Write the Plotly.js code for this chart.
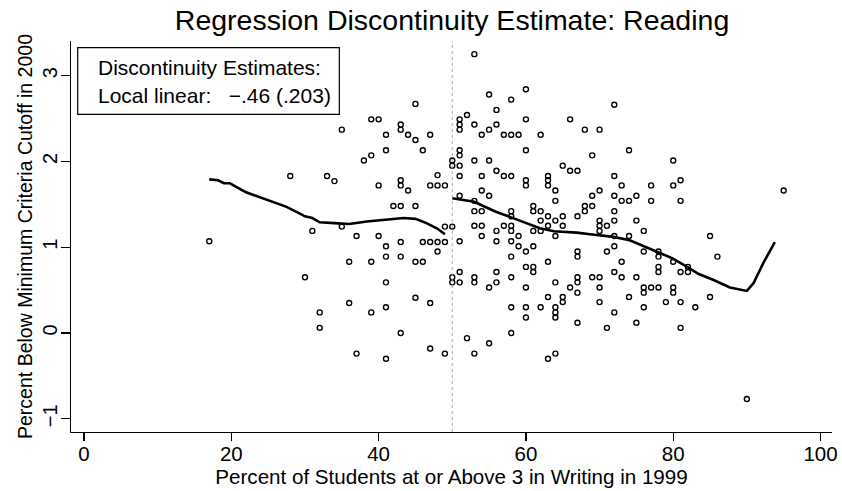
<!DOCTYPE html>
<html>
<head>
<meta charset="utf-8">
<script src="https://cdn.plot.ly/plotly-3.0.1.min.js"></script>
<style>html,body{margin:0;padding:0;background:#fff;}#chart{width:842px;height:491px;}</style>
</head>
<body>
<div id="chart"></div>
<script>
// ---- Data ----
const chartTitle = "Regression Discontinuity Estimate: Reading";
const xTitle = "Percent of Students at or Above 3 in Writing in 1999";
const yTitle = "Percent Below Minimum Criteria Cutoff in 2000";
const legendLine1 = "Discontinuity Estimates:";
const legendLine2 = "Local linear:\u00a0\u00a0\u00a0\u2212.46 (.203)";
const cutoff = 50;
const xTickVals = [0, 20, 40, 60, 80, 100];
const yTickVals = [-1, 0, 1, 2, 3];

// scatter points grouped by x value
const pointGroups = [
  [17, [1.07]],
  [28, [1.83]],
  [30, [0.65]],
  [31, [1.19]],
  [32, [0.24, 0.06]],
  [33, [1.83]],
  [34, [1.77]],
  [35, [2.37, 1.24]],
  [36, [0.83, 0.35]],
  [37, [1.13, -0.24]],
  [38, [2.01]],
  [39, [2.49, 2.07, 0.83, 0.24]],
  [40, [2.49, 1.72, 1.13]],
  [41, [2.31, 2.13, 1.01, 0.89, 0.59, 0.30, -0.30]],
  [42, [1.48]],
  [43, [2.43, 2.37, 1.78, 1.72, 1.48, 1.06, 0.89, 0.0]],
  [44, [2.31, 1.66]],
  [45, [2.67, 2.25, 1.48, 0.83, 0.41]],
  [46, [2.13, 1.06, 0.83]],
  [47, [2.31, 1.72, 1.06, 0.35, -0.18]],
  [48, [1.84, 1.72, 1.06, 0.95]],
  [49, [1.72, 1.24, 1.06, -0.24]],
  [50, [2.01, 1.95, 1.24, 0.65, 0.59]],
  [51, [2.49, 2.43, 2.37, 2.13, 2.07, 1.95, 1.83, 1.60, 1.07, 0.71, 0.59]],
  [52, [2.54, -0.06]],
  [53, [3.25, 2.43, 2.01, 1.54, 1.42, 1.25, 0.65, 0.59, -0.24]],
  [54, [2.31, 1.83, 1.66, 1.42, 1.25, 1.13]],
  [55, [2.78, 2.37, 2.01, 1.60, 0.53, -0.12]],
  [56, [2.60, 2.43, 1.89, 1.19, 1.07, 0.71, 0.59]],
  [57, [2.31, 1.83, 1.25]],
  [58, [2.72, 2.31, 1.83, 1.42, 1.36, 1.25, 1.19, 1.07, 0.89, 0.65, 0.30, 0.0]],
  [59, [2.31, 1.13, 1.01]],
  [60, [2.84, 2.49, 2.13, 1.78, 1.72, 0.95, 0.77, 0.53, 0.30, 0.18]],
  [61, [1.48, 1.42, 1.19, 1.01, 0.77, 0.71]],
  [62, [2.31, 1.42, 1.31, 1.19, 0.30]],
  [63, [1.83, 1.78, 1.72, 1.36, 1.25, 0.83, 0.42, -0.30]],
  [64, [1.66, 1.54, 1.31, 1.13, 0.59, 0.30, 0.24, 0.18, -0.24]],
  [65, [1.95, 1.36, 1.25, 0.42, 0.36]],
  [66, [2.49, 1.89, 0.53]],
  [67, [1.89, 1.36, 0.95, 0.89, 0.65, 0.59, 0.47, 0.12]],
  [68, [2.37, 1.48, 1.42]],
  [69, [2.07, 1.60, 1.48, 0.65]],
  [70, [2.37, 1.66, 1.31, 1.25, 1.19, 0.65, 0.53, 0.36]],
  [71, [1.25, 0.95, 0.06]],
  [72, [2.66, 1.83, 1.60, 1.42, 1.31, 1.13, 1.01, 0.71, 0.24]],
  [73, [1.72, 1.54, 0.83, 0.65]],
  [74, [2.13, 1.54, 1.13, 0.42]],
  [75, [1.60, 1.31, 0.65, 0.12]],
  [76, [1.19, 0.95, 0.53, 0.47, 0.30]],
  [77, [1.72, 1.54, 0.53]],
  [78, [0.95, 0.89, 0.77, 0.71, 0.53]],
  [79, [0.36]],
  [80, [2.01, 1.72, 0.83, 0.53, 0.47]],
  [81, [1.78, 1.54, 0.71, 0.36, 0.06]],
  [82, [0.77, 0.71]],
  [83, [0.30]],
  [85, [1.13, 0.42]],
  [86, [0.89]],
  [90, [-0.77]],
  [95, [1.66]]
];

// local fit, left of cutoff
const fitLeftX = [17, 18.2, 19, 19.8, 22, 24.8, 27.5, 29.3, 30, 31, 32, 34, 36, 38.4, 40.6, 43.4, 45, 46.5, 47.9, 49];
const fitLeftY = [1.79, 1.78, 1.745, 1.745, 1.64, 1.55, 1.47, 1.39, 1.36, 1.34, 1.29, 1.28, 1.27, 1.30, 1.32, 1.34, 1.33, 1.28, 1.22, 1.15];
// local fit, right of cutoff
const fitRightX = [50, 53, 54.2, 56, 57.9, 60.1, 61.9, 63.8, 66.9, 68.7, 70, 71.9, 74.1, 75.5, 77.9, 79.9, 81.9, 83.4, 85.4, 87.7, 90, 90.9, 92.2, 93.8];
const fitRightY = [1.57, 1.53, 1.48, 1.41, 1.35, 1.28, 1.22, 1.185, 1.17, 1.15, 1.14, 1.12, 1.08, 1.03, 0.95, 0.87, 0.77, 0.69, 0.62, 0.53, 0.49, 0.58, 0.81, 1.06];

// ---- Build ----
const scatterX = [], scatterY = [];
pointGroups.forEach(([x, ys]) => ys.forEach(y => { scatterX.push(x); scatterY.push(y); }));

const FONT = "Liberation Sans, Arial, Helvetica, sans-serif";

const traces = [
  {
    x: scatterX, y: scatterY, type: "scatter", mode: "markers",
    marker: { symbol: "circle-open", size: 5, color: "#000", line: { width: 1.4, color: "#000" } },
    hoverinfo: "x+y", showlegend: false
  },
  {
    x: fitLeftX, y: fitLeftY, type: "scatter", mode: "lines",
    line: { color: "#000", width: 2.6 }, showlegend: false
  },
  {
    x: fitRightX, y: fitRightY, type: "scatter", mode: "lines",
    line: { color: "#000", width: 2.6 }, showlegend: false
  }
];

const layout = {
  width: 842, height: 491,
  margin: { l: 71, r: 10, t: 41, b: 59, pad: 0 },
  paper_bgcolor: "#fff", plot_bgcolor: "#fff",
  font: { family: FONT, color: "#000", size: 19 },
  title: {
    text: chartTitle, font: { family: FONT, size: 28.5, color: "#000" },
    x: 0.5007, xref: "paper", xanchor: "center", y: 0.96, yref: "container", yanchor: "middle"
  },
  xaxis: {
    range: [-1.77, 101.56], tickvals: xTickVals, ticks: "outside", ticklen: 8, tickwidth: 1.2,
    tickcolor: "#000", showline: true, linecolor: "#000", linewidth: 1.2,
    showgrid: false, zeroline: false, tickfont: { family: FONT, size: 20.5 }, ticklabelstandoff: -5,
    title: { text: xTitle, font: { family: FONT, size: 20.6 }, standoff: 0 }
  },
  yaxis: {
    range: [-1.154, 3.403], tickvals: yTickVals, ticks: "outside", ticklen: 9, tickwidth: 1.2,
    tickcolor: "#000", showline: true, linecolor: "#000", linewidth: 1.2,
    showgrid: false, zeroline: false, tickangle: -90, tickfont: { family: FONT, size: 20 }, ticklabelstandoff: -4,
    title: { text: yTitle, font: { family: FONT, size: 19.5 }, standoff: 1 }
  },
  shapes: [
    { type: "line", xref: "x", yref: "paper", x0: cutoff, x1: cutoff, y0: 0, y1: 1,
      line: { color: "#aaa", width: 1, dash: "dot" } },
    { type: "rect", xref: "paper", yref: "paper", x0: 0.0088, x1: 0.3526, y0: 0.8125, y1: 0.9829,
      line: { color: "#000", width: 1.2 }, fillcolor: "rgba(255,255,255,0)" }
  ],
  annotations: [
    { text: legendLine1, xref: "paper", yref: "paper", x: 0.033, y: 0.932, xanchor: "left", yanchor: "middle",
      showarrow: false, font: { family: FONT, size: 21, color: "#000" } },
    { text: legendLine2, xref: "paper", yref: "paper", x: 0.033, y: 0.861, xanchor: "left", yanchor: "middle",
      showarrow: false, font: { family: FONT, size: 21, color: "#000" } }
  ]
};

Plotly.newPlot("chart", traces, layout, { staticPlot: true, displayModeBar: false });
</script>
</body>
</html>
